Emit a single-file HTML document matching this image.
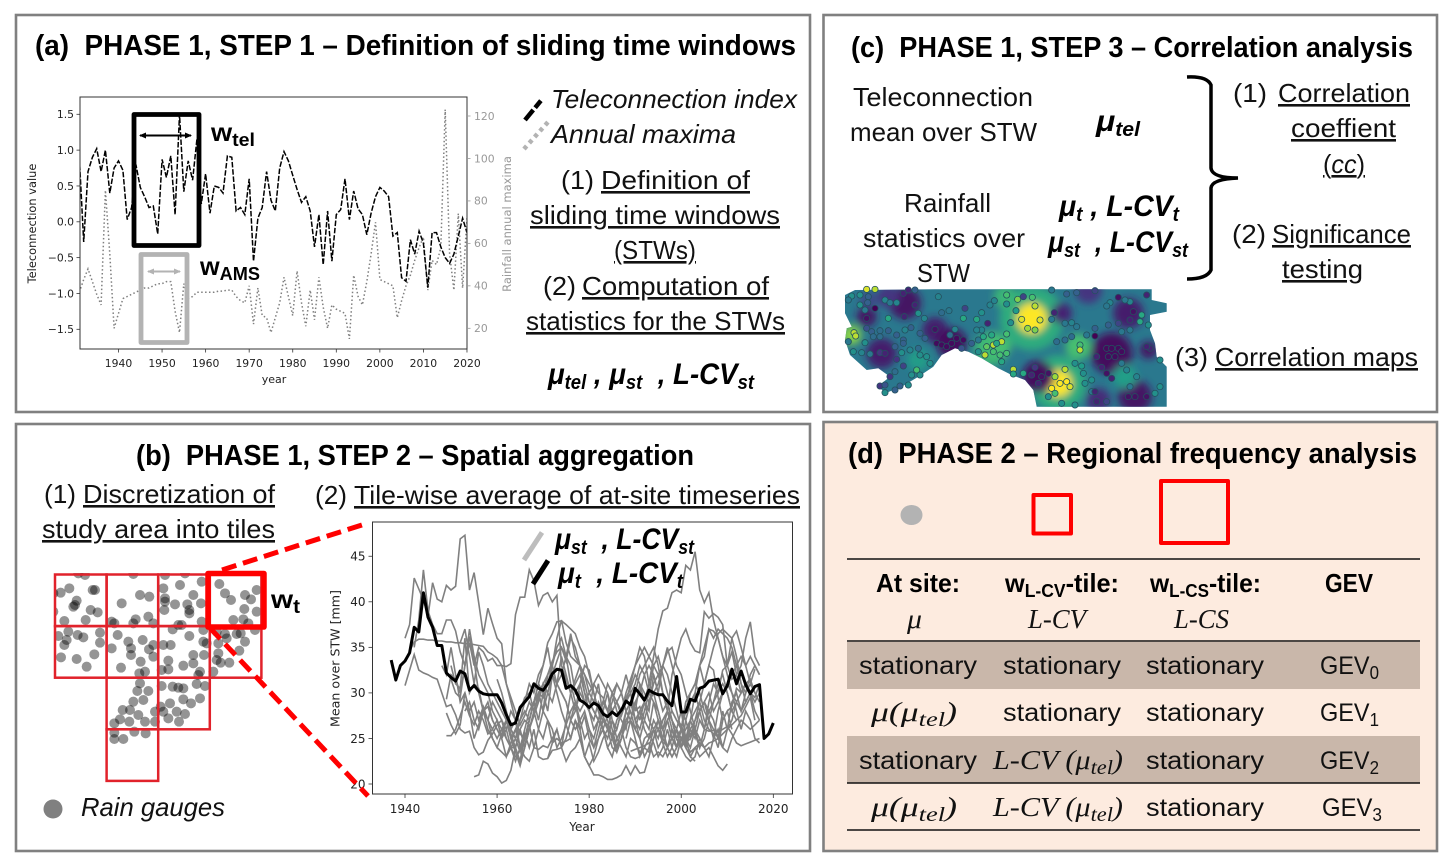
<!DOCTYPE html>
<html lang="en">
<head>
<meta charset="utf-8">
<title>Phases of the regional frequency analysis workflow</title>
<style>
html,body{margin:0;padding:0;background:#fff;}
svg{display:block;}
text{font-family:"Liberation Sans","DejaVu Sans",sans-serif;fill:#000;white-space:pre;}
.title{font-size:29px;font-weight:bold;}
.body{font-size:26px;fill:#111;}
.u{text-decoration:underline;}
.ital{font-style:italic;}
.formula{font-size:30px;font-weight:bold;font-style:italic;}
.sub{font-size:20px;}
.mpl{font-family:"DejaVu Sans","Liberation Sans",sans-serif;fill:#222;}
.cell{font-size:25px;fill:#111;}
.math{font-family:"Liberation Serif","DejaVu Serif",serif;font-style:italic;font-size:27px;fill:#111;}
.head{font-size:26px;font-weight:bold;}
</style>
</head>
<body>
<svg id="figure" xmlns="http://www.w3.org/2000/svg" width="1452" height="867" viewBox="0 0 1452 867">
<defs>
<filter id="blurHeat" x="-30%" y="-30%" width="160%" height="160%"><feGaussianBlur stdDeviation="4"/></filter>
<clipPath id="clipGauges"><rect x="54" y="573" width="215" height="215"/></clipPath>
<marker id="arrowBlack" markerWidth="8" markerHeight="8" refX="6" refY="3" orient="auto-start-reverse" markerUnits="userSpaceOnUse"><path d="M0,0 L7,3 L0,6 Z" fill="#000"/></marker>
<marker id="arrowGray" markerWidth="8" markerHeight="8" refX="6" refY="3" orient="auto-start-reverse" markerUnits="userSpaceOnUse"><path d="M0,0 L7,3 L0,6 Z" fill="#b3b3b3"/></marker>
</defs>

<rect x="16" y="15" width="794" height="397" fill="#fff" stroke="#808080" stroke-width="2.6"/>
<rect x="16" y="424" width="794" height="427" fill="#fff" stroke="#808080" stroke-width="2.6"/>
<rect x="823.500" y="15" width="613.500" height="397" fill="#fff" stroke="#808080" stroke-width="2.6"/>
<rect x="823.500" y="422" width="613.500" height="429" fill="#fdebdf" stroke="#808080" stroke-width="2.6"/>

<!-- Panel A text -->
<text class="title" x="35" y="55" textLength="761" lengthAdjust="spacingAndGlyphs">(a)  PHASE 1, STEP 1 – Definition of sliding time windows</text>
<g id="chartA"></g>
<rect x="134" y="114.500" width="65" height="131" fill="none" stroke="#000" stroke-width="4.800" stroke-linejoin="round"/>
<line x1="140" y1="135.500" x2="191" y2="135.500" stroke="#000" stroke-width="2" marker-start="url(#arrowBlack)" marker-end="url(#arrowBlack)"/>
<rect x="141" y="254.500" width="46" height="88" fill="none" stroke="#b3b3b3" stroke-width="4.800" stroke-linejoin="round"/>
<line x1="148" y1="271.500" x2="180" y2="271.500" stroke="#b3b3b3" stroke-width="2" marker-start="url(#arrowGray)" marker-end="url(#arrowGray)"/>
<text x="211" y="141" font-weight="bold" font-size="25" textLength="44" lengthAdjust="spacingAndGlyphs">w<tspan font-size="18" dy="5">tel</tspan></text>
<text x="200" y="275" font-weight="bold" font-size="25" textLength="60" lengthAdjust="spacingAndGlyphs">w<tspan font-size="18" dy="5">AMS</tspan></text>
<line x1="525" y1="120" x2="548" y2="92" stroke="#000" stroke-width="4.500" stroke-dasharray="13 3 9"/>
<line x1="524" y1="149" x2="548" y2="122" stroke="#b3b3b3" stroke-width="4.500" stroke-dasharray="4 4"/>
<text class="body ital" x="551" y="108" textLength="246" lengthAdjust="spacingAndGlyphs">Teleconnection index</text>
<text class="body ital" x="551" y="143" textLength="185" lengthAdjust="spacingAndGlyphs">Annual maxima</text>
<text class="body" x="561" y="189" textLength="33" lengthAdjust="spacingAndGlyphs">(1)</text>
<text class="body u" x="601" y="189" textLength="149" lengthAdjust="spacingAndGlyphs">Definition of</text>
<text class="body u" x="530" y="224" textLength="250" lengthAdjust="spacingAndGlyphs">sliding time windows</text>
<text class="body u" x="614" y="259" textLength="82" lengthAdjust="spacingAndGlyphs">(STWs)</text>
<text class="body" x="543" y="295" textLength="33" lengthAdjust="spacingAndGlyphs">(2)</text>
<text class="body u" x="582" y="295" textLength="187" lengthAdjust="spacingAndGlyphs">Computation of</text>
<text class="body u" x="526" y="330" textLength="259" lengthAdjust="spacingAndGlyphs">statistics for the STWs</text>
<text class="formula" x="548" y="384" textLength="206" lengthAdjust="spacingAndGlyphs">μ<tspan class="sub" dy="5">tel</tspan><tspan dy="-5"> , μ</tspan><tspan class="sub" dy="5">st</tspan><tspan dy="-5">  , L-CV</tspan><tspan class="sub" dy="5">st</tspan></text>

<!-- Panel B text -->
<text class="title" x="136" y="465" textLength="558" lengthAdjust="spacingAndGlyphs">(b)  PHASE 1, STEP 2 – Spatial aggregation</text>
<text class="body" x="44" y="503" textLength="32" lengthAdjust="spacingAndGlyphs">(1)</text>
<text class="body u" x="83" y="503" textLength="192" lengthAdjust="spacingAndGlyphs">Discretization of</text>
<text class="body u" x="42" y="538" textLength="233" lengthAdjust="spacingAndGlyphs">study area into tiles</text>
<text class="body" x="315" y="504" textLength="32" lengthAdjust="spacingAndGlyphs">(2)</text>
<text class="body u" x="354" y="504" textLength="446" lengthAdjust="spacingAndGlyphs">Tile-wise average of at-site timeseries</text>
<g id="gauges" clip-path="url(#clipGauges)"></g>
<g id="tiles"></g>
<g id="chartB"></g>
<line x1="222" y1="570" x2="368" y2="523" stroke="#f00" stroke-width="5" stroke-dasharray="15 7"/>
<line x1="210" y1="628" x2="368" y2="796" stroke="#f00" stroke-width="5" stroke-dasharray="15 7"/>
<rect x="208" y="573.500" width="56" height="53.500" fill="none" stroke="#f00" stroke-width="5.500" stroke-linejoin="round"/>
<text x="271" y="608" font-weight="bold" font-size="26" textLength="29" lengthAdjust="spacingAndGlyphs">w<tspan font-size="19" dy="5">t</tspan></text>
<circle cx="53" cy="809" r="9.500" fill="#808080"/>
<text class="body ital" x="81" y="816" textLength="144" lengthAdjust="spacingAndGlyphs">Rain gauges</text>
<line x1="524" y1="560" x2="542" y2="532.500" stroke="#bdbdbd" stroke-width="5"/>
<line x1="533" y1="584" x2="548" y2="560.500" stroke="#000" stroke-width="5"/>
<text class="formula" x="555" y="549" textLength="139" lengthAdjust="spacingAndGlyphs">μ<tspan class="sub" dy="5">st</tspan><tspan dy="-5">  , L-CV</tspan><tspan class="sub" dy="5">st</tspan></text>
<text class="formula" x="558" y="583" textLength="125" lengthAdjust="spacingAndGlyphs">μ<tspan class="sub" dy="5">t</tspan><tspan dy="-5">  , L-CV</tspan><tspan class="sub" dy="5">t</tspan></text>

<!-- Panel C text -->
<text class="title" x="851" y="57" textLength="562" lengthAdjust="spacingAndGlyphs">(c)  PHASE 1, STEP 3 – Correlation analysis</text>
<text class="body" x="853" y="106" textLength="180" lengthAdjust="spacingAndGlyphs">Teleconnection</text>
<text class="body" x="850" y="141" textLength="187" lengthAdjust="spacingAndGlyphs">mean over STW</text>
<text class="formula" x="1096" y="131" textLength="44" lengthAdjust="spacingAndGlyphs">μ<tspan class="sub" dy="5">tel</tspan></text>
<text class="body" x="904" y="212" textLength="87" lengthAdjust="spacingAndGlyphs">Rainfall</text>
<text class="body" x="863" y="247" textLength="162" lengthAdjust="spacingAndGlyphs">statistics over</text>
<text class="body" x="917" y="282" textLength="53" lengthAdjust="spacingAndGlyphs">STW</text>
<text class="formula" x="1059" y="216" textLength="120" lengthAdjust="spacingAndGlyphs">μ<tspan class="sub" dy="5">t</tspan><tspan dy="-5"> , L-CV</tspan><tspan class="sub" dy="5">t</tspan></text>
<text class="formula" x="1048" y="252" textLength="140" lengthAdjust="spacingAndGlyphs">μ<tspan class="sub" dy="5">st</tspan><tspan dy="-5">  , L-CV</tspan><tspan class="sub" dy="5">st</tspan></text>
<path d="M1187,77 Q1207,76 1211,85 L1211,168 Q1212,178 1238,178 Q1212,179 1211,188 L1211,270 Q1207,279 1187,279" fill="none" stroke="#000" stroke-width="3.500"/>
<text class="body" x="1233" y="102" textLength="34" lengthAdjust="spacingAndGlyphs">(1)</text>
<text class="body u" x="1278" y="102" textLength="132" lengthAdjust="spacingAndGlyphs">Correlation</text>
<text class="body u" x="1291" y="137" textLength="105" lengthAdjust="spacingAndGlyphs">coeffient</text>
<text class="body u" x="1323" y="173" textLength="42" lengthAdjust="spacingAndGlyphs">(<tspan font-style="italic">cc</tspan>)</text>
<text class="body" x="1232" y="243" textLength="34" lengthAdjust="spacingAndGlyphs">(2)</text>
<text class="body u" x="1272" y="243" textLength="139" lengthAdjust="spacingAndGlyphs">Significance</text>
<text class="body u" x="1282" y="278" textLength="81" lengthAdjust="spacingAndGlyphs">testing</text>
<g id="heatmap"></g>
<text class="body" x="1175" y="366" textLength="33" lengthAdjust="spacingAndGlyphs">(3)</text>
<text class="body u" x="1215" y="366" textLength="203" lengthAdjust="spacingAndGlyphs">Correlation maps</text>

<!-- Panel D -->
<text class="title" x="848" y="463" textLength="569" lengthAdjust="spacingAndGlyphs">(d)  PHASE 2 – Regional frequency analysis</text>
<ellipse cx="911.500" cy="515" rx="11" ry="10" fill="#b3b3b3"/>
<rect x="1033.500" y="495" width="37.500" height="38.500" fill="none" stroke="#f00" stroke-width="4" stroke-linejoin="round"/>
<rect x="1161" y="481" width="67" height="62" fill="none" stroke="#f00" stroke-width="4" stroke-linejoin="round"/>
<rect x="847" y="642" width="573" height="47" fill="#c9b7aa"/>
<rect x="847" y="736" width="573" height="47" fill="#c9b7aa"/>
<line x1="847" y1="559" x2="1420" y2="559" stroke="#111" stroke-width="1.600"/>
<line x1="847" y1="641" x2="1420" y2="641" stroke="#111" stroke-width="1.600"/>
<line x1="847" y1="783" x2="1420" y2="783" stroke="#111" stroke-width="1.600"/>
<line x1="847" y1="830" x2="1420" y2="830" stroke="#111" stroke-width="1.600"/>
<text class="head" x="876" y="592" textLength="84" lengthAdjust="spacingAndGlyphs">At site:</text>
<text class="head" x="1005" y="592" textLength="114" lengthAdjust="spacingAndGlyphs">w<tspan font-size="18" dy="5">L-CV</tspan><tspan dy="-5">-tile:</tspan></text>
<text class="head" x="1150" y="592" textLength="111" lengthAdjust="spacingAndGlyphs">w<tspan font-size="18" dy="5">L-CS</tspan><tspan dy="-5">-tile:</tspan></text>
<text class="head" x="1325" y="592" textLength="48" lengthAdjust="spacingAndGlyphs">GEV</text>
<text class="math" x="907" y="628" textLength="15" lengthAdjust="spacingAndGlyphs">μ</text>
<text class="math" x="1028" y="628" textLength="58" lengthAdjust="spacingAndGlyphs">L-CV</text>
<text class="math" x="1174" y="628" textLength="55" lengthAdjust="spacingAndGlyphs">L-CS</text>

<text class="cell" x="859" y="674" textLength="118" lengthAdjust="spacingAndGlyphs">stationary</text>
<text class="cell" x="1003" y="674" textLength="118" lengthAdjust="spacingAndGlyphs">stationary</text>
<text class="cell" x="1146" y="674" textLength="118" lengthAdjust="spacingAndGlyphs">stationary</text>
<text class="cell" x="1320" y="674" textLength="59" lengthAdjust="spacingAndGlyphs">GEV<tspan font-size="18" dy="5">0</tspan></text>

<text class="math" x="871" y="721" textLength="86" lengthAdjust="spacingAndGlyphs">μ(μ<tspan font-size="20" dy="5">tel</tspan><tspan dy="-5">)</tspan></text>
<text class="cell" x="1003" y="721" textLength="118" lengthAdjust="spacingAndGlyphs">stationary</text>
<text class="cell" x="1146" y="721" textLength="118" lengthAdjust="spacingAndGlyphs">stationary</text>
<text class="cell" x="1320" y="721" textLength="59" lengthAdjust="spacingAndGlyphs">GEV<tspan font-size="18" dy="5">1</tspan></text>

<text class="cell" x="859" y="769" textLength="118" lengthAdjust="spacingAndGlyphs">stationary</text>
<text class="math" x="993" y="769" textLength="130" lengthAdjust="spacingAndGlyphs">L-CV (μ<tspan font-size="20" dy="5">tel</tspan><tspan dy="-5">)</tspan></text>
<text class="cell" x="1146" y="769" textLength="118" lengthAdjust="spacingAndGlyphs">stationary</text>
<text class="cell" x="1320" y="769" textLength="59" lengthAdjust="spacingAndGlyphs">GEV<tspan font-size="18" dy="5">2</tspan></text>

<text class="math" x="871" y="816" textLength="86" lengthAdjust="spacingAndGlyphs">μ(μ<tspan font-size="20" dy="5">tel</tspan><tspan dy="-5">)</tspan></text>
<text class="math" x="993" y="816" textLength="130" lengthAdjust="spacingAndGlyphs">L-CV (μ<tspan font-size="20" dy="5">tel</tspan><tspan dy="-5">)</tspan></text>
<text class="cell" x="1146" y="816" textLength="118" lengthAdjust="spacingAndGlyphs">stationary</text>
<text class="cell" x="1322" y="816" textLength="60" lengthAdjust="spacingAndGlyphs">GEV<tspan font-size="18" dy="5">3</tspan></text>
</svg>

<script>
/* ---------- Panel A data ---------- */
const teleStartYear = 1931;
const teleValues = [0.9,-0.28,0.7,0.9,1.02,0.7,1.0,0.4,0.75,0.85,0.72,0.03,0.2,0.8,0.48,0.35,0.2,0.22,-0.17,0.87,0.62,0.92,0.1,1.5,0.42,0.85,0.58,1.15,0.25,0.67,0.12,0.5,0.48,0.4,0.92,0.9,0.15,0.2,0.1,0.6,-0.55,0.05,0.2,0.7,0.3,0.15,0.75,0.98,0.85,0.65,0.45,0.27,0.35,0.15,-0.35,0.1,-0.6,0.15,-0.55,0.1,0.17,0.6,0.03,0.43,0.18,0.1,-0.18,0.12,0.35,0.48,0.43,0.35,-0.2,-0.15,-0.78,-0.83,-0.25,-0.45,-0.13,-0.3,-0.92,-0.15,-0.15,-0.35,-0.5,-0.58,-0.45,-0.2,0.05,-0.15];
const amsValues = [37,43,48,42,36,31,85,55,20,27,34,35,36,37,38,39,39,40,41,41,42,42,28,18,41,34,35,37,37,37,37,37,37.5,37.5,38,38,35,33,32,40,22,39,26,25,18,25,32,44,35,26,47,32,21,38,24,44,30,20,31,29,28,27,15,45,35,31,42,55,70,43,42,41,40,25,33,40,45,52,58,63,38,52,50,58,123,55,38,74,39,72];
const teleXTicks = [1940,1950,1960,1970,1980,1990,2000,2010,2020];
const teleYTicks = [-1.5,-1.0,-0.5,0.0,0.5,1.0,1.5];
const amsYTicks = [20,40,60,80,100,120];

/* ---------- Panel B data ---------- */
const tileStartYear = 1937;
const tileMean = [33.6,31.4,33,33.5,34.4,37.2,36.7,41,38.3,37.2,35.2,35.2,32.2,31.7,31.3,32.4,32.1,30.3,30.8,30.2,29.9,29.8,29.8,29.8,28.9,27.6,26.5,26.7,28.4,29,29.6,31,30.5,30.3,31,32.1,32.6,32.5,30.5,30.8,30.3,29.2,28.9,28.4,28.9,28.6,27.7,27.4,27.9,27.5,28.1,29.1,28.7,30.5,29.9,29.2,30.3,30,29.8,29.8,29.1,28.6,31.8,27.9,27.9,29.3,29.1,30.5,30.7,31.3,31.4,31.5,29.9,30.8,32.6,31,32.4,30.9,29.9,30.7,30.9,25,25.5,26.7];
const grayStarts = [1940,1949,1941,1940,1949,1949,1989,1950,1952,1955,1950,1948,1958,1953,1960,1971,1963,1990,1988,1995,1942];
const gray01 = [36,37.5,42.6,41.4,40.2,38.4,42.1,40.3,40,41.8,41.3,41.7,46.9,47.3,41.3,43.2,39.9,36.4,39.3,37.6,36,35.4,31,29.5,28,26.5,27.5,29,28,29.5,31,30,32,31,30,29,27,26,27,25,26,24,25,27,26,28,29,30,28,27,26,28,29,27,26,27,25,24,26,25,24,27,29,30,28,29,30,28,29,30,31,30,29,28,30,31,30,29];
const gray02 = [29.3,32,31.5,30,33,35.5,33,35,34.5,33.5,33.8,33,33,32.9,33.2,38.6,40.5,40.5,43.5,42.3,39.6,40.7,41,40,40.7,33,31.5,30,31,32,30,28,27,29,28,30,27,26,28,29,30,31,33,32,30,29,28,26,27,25,26,28,25,24,26,28,29,27,26,25,28,26,27,29,30,31,30,29,30];
const gray03 = [34.6,35.6,35.9,35.9,35.8,35.8,35.7,35.7,35.6,35.6,35.5,35.5,35.4,35.4,35.3,35.2,35.1,34.5,34.2,33.8,33,31,29,27,24,26,28,29,27,30,32,33,31,30,29,27,28,30,29,28,26,27,26,24,25,27,28,29,30,27,28,26,25,26,24,25,27,28,27,26,29,30,31,33,35,37,36,37,36.5,36,35,33,34,33,31,32.6];
const gray04 = [30.8,32.5,34.2,32.5,32.2,32,31.7,31.5,30,28.5,28.7,27.6,26,25.6,25.8,24,23.2,23.5,24.8,25.5,26.5,27,25,24,22.5,24,25.5,24,26,23,22.7,22.8,23.7,23.8,24,25,27,29,26,23,24.5,22.5,23.5,25,26,25.5,24,25,26.5,27,25,23,24,23.5,25,26,24.5,23,24,26,24,23,22.5,23,25,24];
const gray05 = [25.3,25.3,26,27.5,29,27.5,26.5,28,27,25.5,26,27,25,23,24.5,26,27,28,27,29,30,28,27,26,24,25,26.5,25,27,26,27.5,25,24,26,28,27,25,23.5,25,27,28,26,25,23,24,26,25,27,28,26,24,25,26,27,28,29,27,26,25.5,24,27,28,26];
const gray06 = [27.8,26.5,25.5,26.5,30,28,25,26.5,28,26,25,24,23.5,23,24,25,27,29,31,30,32,33,35,32,30,28,26.5,28,29,27,28,26,25,27,29,28,26,24,26,28,29,27,25,27,29,30,31,33,35,33,31,28,27,25,26,24,25,27,29,31,32,30,28,27];
const gray07 = [23.6,23.8,24,24.2,24.5,23,23.5,23,24,25,26,25,24,23,24,24.5,24,24.5,24.7,25,25.5,26,26.5,27,27.5,28.5,29.5,27];
const gray08 = [33,31,30.5,36,30,31,30.5,28,29,27,26,25,26,28,27,25.5,25,27,29,31,33,35.5,36.5,37.8,37.9,37.5,37,36.5,35,34,32,30,28,29,31,30,29,28,29.5,30.5,32,31,30,29,31,32,33,32,30,28,26,29,30,31,30,28,27,25,26,24,26,29,30,28,29,30];
const gray09 = [35.5,37,34,31,34.5,33,31,30,29,28,27,26,25,26,24,27,29,30,28,32,33.5,34.5,35,33.5,36,35,33,31,29,28,27,29,28,30,28,27,26,29,30,32,33,34,35,33,30,28,27,25,26,24.5,25,27,28,26,29,31,30,32.5,33,34.5,32,33,36,37.8,34,33];
const gray10 = [20.8,21,22.5,22.2,21.2,20.8,20.1,20.4,21.5,24,26,27,26.5,24,23.8,24.2,24,25,26,24,22.5,23.5,24,25,23,22,23,25,26,24,23,25,26,24,23,22.8,23,25,25.5,24.5,23,24,26,24,23,25,24.5,23.5,24,23,23.5,24,23,22,21.5,22.2];
const gray11 = [31.5,30,29.5,33,36.2,33.5,30,28,28.5,27,26,25,27,25,23.5,22,24,26,28,30,29.5,31,33,35,36,34,33,30,31,29,28,31,32,31,30,28,29,27.5,29,31,33,35,34,31,30,28,26,27,25,24,25,24,27,30,33,31,33,32.5,29.5,27,28,28.5,30.5,30,31,31.5,30];
const gray12 = [33,32,35,32,29,30,28,29,27,28.5,27,26,25,26,27,25.5,24,22.5,24,26,27.5,29,31,30,32,33.5,35,34,31,29,28,29,30,31,30,29.5,28,30,31,30,28,27,29,30,32,33,32,30,28,29,27,25,26,24,26,25,27,26,28,29,30,31,30,28,29];
const gray13 = [27,29,28,27,26,24,23,22.6,25,27,29,30,31,32,33,36,38,35.5,34,33.5,33,32,31,30,28,27,26.5,25,26,28,30,31.5,33,34,35,34,33,32,30,29,27,26,25,24,26,27,29,31,33,35,36.5,37,36.5,36,36.8,35,33,34,33,32];
const gray14 = [28,29,27,26,28,27,25,24,25.5,27,25,26,24,23,22.5,24,26,28,30,29,31,32,34,36.5,34,33,30,29,28,27,26,25,27,25,24,23,25,24.5,23.5,24,25,27,26,25,24,23,24,26,28,30,31,33,34,37,36.8,36,34,32,30,28,26,28,27,25,24.5];
const gray15 = [31.5,30,28,26,25,23.5,25,27,29,31,30,28,32,31,34,32,30,28,31,33,32.5,30,28,26,27.5,29,31,30,32,30,28,31,29,28,32,30,33,34.5,35,33,32,30,28,26,25,24,23,25,28,30,31,32,33,31,29,30,28,27];
const gray16 = [22.8,24.5,25,24.5,24.7,25,27,25,23,22,21,21,20.8,20.5,20.5,20.7,21,22,21,22,21.2,21.3,23,25,27,26,24,23,24,26,25,23,22.5];
const gray17 = [26,27,28,29.5,30,28,26,25,27,24.5,26,24,27,30,31.5,33,32,30,29,31,27.5,26,24,23.5,25,28,29,27,26,28,30,33,34,32,30,28,27,26.5,25,25.5,26,28,29,28,27,25,24,23.5,25,26,27,26.5,26,26.5,27];
const gray18 = [28,28.5,27,26,29,27,26,28,27,25,24,25,27,25.5,24,26,25.8,25.9,25.7,26,26.3,25.5,24.5,24.2,24.4,24.6,24.8,25];
const gray19 = [25,27,29,27,29,31,34,37,39,39.3,41,41.3,41,44,43.5,45.5,41.3,39.9,41,38,36,34,33,31.5,32,30,31,30,29.5,31];
const gray20 = [26,27,28,32,34,36,37,35.5,34.6,34.4,38.9,38.2,38.7,38.3,37.5,33,36,34,31,30,32,33,32];
const gray21 = [35,38,43.5,39,37.5,36.5,36.5,38,38,36.8,34.5,33,37,34,32,31,30,28,27,26,25,24,24,26];
const graySeries = [gray01,gray02,gray03,gray04,gray05,gray06,gray07,gray08,gray09,gray10,gray11,gray12,gray13,gray14,gray15,gray16,gray17,gray18,gray19,gray20,gray21];
const tileXTicks = [1940,1960,1980,2000,2020];
const tileYTicks = [20,25,30,35,40,45];

/* ---------- Gauge map data: easting / northing in map units, tile columns and rows ---------- */
const gaugeEast = [118,92,188,195,140,130,135,182,203,103,167,70,70,145,165,330,358,275,355,317,310,253,245,370,310,400,450,405,405,435,490,515,403,478,478,472,513,455,445,515,405,465,428,568,585,603,645,663,643,680,680,610,640,655,675,632,620,585,560,115,85,110,103,143,160,210,210,93,140,170,193,263,295,338,303,303,357,370,245,332,370,273,345,328,400,422,520,478,520,530,490,522,490,415,415,460,510,505,395,565,590,645,628,565,572,560,598,550,330,322,355,340,310,300,278,325,345,298,270,375,253,375,428,445,460,395,420,460,483,392,400,440,465,415,447,510,500,525,253,280,253,313,347];
const gaugeNorth = [85,98,90,90,122,140,135,150,157,183,180,100,155,40,45,105,110,130,170,178,190,190,185,190,42,85,75,115,125,133,105,65,150,150,160,133,130,195,195,185,45,40,208,72,100,120,105,118,147,90,155,180,178,190,210,220,222,222,215,215,228,240,255,225,232,218,248,292,297,320,283,225,245,240,265,285,268,255,265,305,290,323,335,340,255,255,210,228,245,250,285,285,310,302,328,317,335,345,330,250,235,245,272,280,308,300,308,335,370,393,393,420,425,450,450,465,485,485,478,455,490,485,380,383,385,378,430,418,430,440,455,455,462,475,485,415,372,378,518,537,537,515,520];
const tileCols = [0,1,2,3,0,1,2,3,1,2,1];
const tileRows = [0,0,0,0,1,1,1,1,2,2,3];

/* ---------- Correlation map data (map units): blobs and gauge values ---------- */
const blobEast = [590,590,670,670,50,470,510,730,210,95,140,300,350,830,610,880,900,940,680,160,790,250,100,500,870,760];
const blobNorth = [115,115,310,310,165,205,50,200,70,110,220,150,190,220,290,100,350,210,100,50,360,240,60,200,290,30];
const blobRadius = [80,38,70,34,24,42,28,32,40,25,38,32,38,52,40,38,42,22,26,28,30,28,22,24,30,34];
const blobValue = [0.62,1,0.62,1,0.82,0.68,0.66,0.7,0.05,0.05,0.08,0.08,0.03,0.03,0.03,0.08,0.05,0.05,0.1,0.15,0.12,0.55,0.22,0.7,0.56,0.15];
const stationEast = [95,120,50,75,100,40,98,75,120,90,95,150,165,185,205,220,240,240,208,160,310,320,342,268,250,390,385,425,440,465,478,515,515,548,565,592,600,650,695,725,780,850,935,825,815,885,870,895,920,885,915,940,850,820,780,885,860,780,755,658,650,690,710,725,665,690,710,735,735,560,615,578,600,543,527,458,515,440,425,57,62,40,90,95,110,135,135,115,160,185,210,228,205,205,180,255,270,300,360,345,305,320,335,350,365,385,380,410,430,455,475,500,450,475,495,515,430,445,470,485,55,80,105,135,150,185,200,225,250,255,275,285,245,230,205,180,165,135,150,180,195,220,255,150,500,535,535,565,600,590,620,640,610,660,650,675,695,705,690,660,640,680,720,720,740,745,770,750,770,800,815,830,785,815,830,850,820,840,860,860,875,905,885,960,975,975,945,935,880,900,935,780,785,815];
const stationNorth = [28,28,48,45,50,60,68,75,85,90,115,60,68,68,40,30,30,75,110,115,50,98,92,115,100,85,115,118,98,75,62,72,45,58,50,52,78,30,42,38,32,52,45,68,78,65,60,95,105,120,125,135,130,135,145,150,155,168,165,98,118,130,128,140,185,180,170,195,210,118,120,145,150,92,128,130,162,150,150,158,168,185,188,145,155,152,170,170,152,165,150,143,180,190,200,160,175,148,148,165,190,195,200,190,175,180,205,190,180,200,195,185,225,215,225,220,215,170,165,190,215,218,222,218,220,238,218,210,205,225,230,250,270,285,258,275,290,318,315,330,318,315,285,338,245,268,282,280,262,285,290,280,310,290,325,310,305,320,268,340,350,370,375,250,258,280,300,310,335,262,280,295,230,205,205,205,230,230,215,250,270,290,320,340,320,240,205,200,350,350,350,335,365,365];
const stationValue = [.95,.9,.5,.5,.3,.4,.3,.5,0,.4,.05,.45,.4,.45,.1,.1,.3,.1,.1,.6,.45,.35,.4,.45,.5,.2,.6,.6,.5,.45,.45,.5,.7,.8,.2,.7,.9,.4,.3,.3,.2,.05,.1,.45,.4,.45,.4,.05,.6,.1,.6,.5,.2,.3,.3,.4,.4,0,.4,.1,.4,.4,.45,.4,.35,.35,.35,.7,.9,.95,.95,.85,.8,.55,.5,.1,.7,.45,.45,.9,.9,.4,.5,.25,.3,.35,.35,.35,.3,.3,.45,.3,.3,.3,.3,.3,.3,.05,.45,.35,.03,.03,.03,.03,.03,.03,.25,.3,.4,.75,.9,.9,.9,.7,.7,.7,.5,.6,.6,.6,.5,.45,.4,.15,.1,.15,.5,.45,.35,.5,.5,.5,.7,.5,.2,.35,.15,.15,.25,.3,.3,.5,.5,.5,.6,.9,.6,.6,.15,.1,.05,.05,.1,.85,1,1,1,.95,.9,.7,.5,.5,.5,.5,.55,.5,.5,.5,.4,.1,.05,.1,.1,.03,.03,.03,.03,.03,.03,.4,.45,.45,.4,.5,.5,.5,.1,.1,.05,.05,.05,.1,.1,.2];
const mapOutlineEast = [30,60,300,950,950,995,995,945,945,960,965,995,995,605,595,570,530,490,440,400,360,320,295,250,200,150,130,165,130,95,45,30,35,50,30];
const mapOutlineNorth = [45,30,28,28,60,70,95,105,150,190,230,260,380,380,330,300,285,265,235,215,205,225,260,290,320,340,318,290,265,270,225,180,145,140,100];

/* ---------- Helpers ---------- */
const NS = 'http://www.w3.org/2000/svg';
function mk(tag, parent, attrs, txt) {
  const el = document.createElementNS(NS, tag);
  for (const k in attrs) el.setAttribute(k, attrs[k]);
  if (txt !== undefined) el.textContent = txt;
  parent.appendChild(el);
  return el;
}
function fmtMinus(v, digits) {
  const s = Math.abs(v).toFixed(digits);
  return (v < 0 ? '\u2212' : '') + s;
}
function pathFrom(startYear, values, xFn, yFn) {
  return values.map((v, i) => (i ? 'L' : 'M') + xFn(startYear + i).toFixed(1) + ',' + yFn(v).toFixed(1)).join(' ');
}

/* ---------- Chart A ---------- */
(function () {
  const g = document.getElementById('chartA');
  const left = 80, right = 467, top = 97, bottom = 349;
  const xA = y => 118.5 + (y - 1940) * 4.356;
  const yL = v => 221.8 - v * 71.67;
  const yR = v => 328.3 - (v - 20) * 2.123;
  const clipId = 'clipA';
  const defs = mk('clipPath', g, { id: clipId });
  mk('rect', defs, { x: left, y: top, width: right - left, height: bottom - top });

  const ams = mk('path', g, { d: pathFrom(teleStartYear, amsValues, xA, yR), fill: 'none', stroke: '#7f7f7f', 'stroke-width': 1.5, 'stroke-dasharray': '1.5 2.4', 'clip-path': 'url(#clipA)' });
  
  

  const tele = mk('path', g, { d: pathFrom(teleStartYear, teleValues, xA, yL), fill: 'none', stroke: '#000', 'stroke-width': 1.5, 'stroke-dasharray': '5.5 1.8', 'clip-path': 'url(#clipA)' });
  
  

  const frame = mk('rect', g, { x: left, y: top, width: right - left, height: bottom - top, fill: 'none', stroke: '#333', 'stroke-width': 1 });
  
  

  teleXTicks.forEach(t => {
    const tick = mk('line', g, { x1: xA(t), x2: xA(t), y1: bottom, y2: bottom + 3.5, stroke: '#333', 'stroke-width': 0.8 });
    
    
    const lab = mk('text', g, { x: xA(t), y: bottom + 18, 'text-anchor': 'middle', 'font-size': 10.8, class: 'mpl' }, String(t));
    
    
  });
  teleYTicks.forEach(t => {
    const tick = mk('line', g, { x1: left - 3.5, x2: left, y1: yL(t), y2: yL(t), stroke: '#333', 'stroke-width': 0.8 });
    
    
    const lab = mk('text', g, { x: left - 6, y: yL(t) + 3.8, 'text-anchor': 'end', 'font-size': 10.8, class: 'mpl' }, fmtMinus(t, 1));
    
    
  });
  amsYTicks.forEach(t => {
    const tick = mk('line', g, { x1: right, x2: right + 3.5, y1: yR(t), y2: yR(t), stroke: '#999', 'stroke-width': 0.8 });
    
    
    const lab = mk('text', g, { x: right + 7, y: yR(t) + 3.8, 'font-size': 10.8, class: 'mpl', style: 'fill:#999' }, String(t));
    
    
  });
  const xt = mk('text', g, { x: 274, y: 383, 'text-anchor': 'middle', 'font-size': 11, class: 'mpl' }, 'year');
  
  
  const yt = mk('text', g, { x: 0, y: 0, transform: 'translate(36,223.5) rotate(-90)', 'text-anchor': 'middle', 'font-size': 11.4, class: 'mpl' }, 'Teleconnection value');
  
  
  const yr = mk('text', g, { x: 0, y: 0, transform: 'translate(511,224) rotate(-90)', 'text-anchor': 'middle', 'font-size': 11.5, class: 'mpl', style: 'fill:#999' }, 'Rainfall annual maxima');
  
  
})();

/* ---------- Rain gauges and tiles ---------- */
(function () {
  const gg = document.getElementById('gauges');
  const gx = e => 30 + e / 3;
  const gy = n => 560 + n / 3;
  gaugeEast.forEach((e, i) => {
    const c = mk('circle', gg, { cx: gx(e), cy: gy(gaugeNorth[i]), r: 5, fill: 'rgba(0,0,0,0.42)' });
    
    
  });
  const tg = document.getElementById('tiles');
  const tileX = c => 55 + c * 51.6;
  const tileY = r => 574.5 + r * 51.6;
  tileCols.forEach((c, i) => {
    const t = mk('rect', tg, { x: tileX(c), y: tileY(tileRows[i]), width: 51.6, height: 51.6, fill: 'none', stroke: '#e1222b', 'stroke-width': 2.5 });
    
    
  });
})();

/* ---------- Chart B ---------- */
(function () {
  const g = document.getElementById('chartB');
  const left = 372.5, right = 792.5, top = 522, bottom = 794;
  const xB = y => 405 + (y - 1940) * 4.604;
  const yB = v => 784 - (v - 20) * 9.11;
  const defs = mk('clipPath', g, { id: 'clipB' });
  mk('rect', defs, { x: left, y: top, width: right - left, height: bottom - top });

  graySeries.forEach((vals, i) => {
    const p = mk('path', g, { d: pathFrom(grayStarts[i], vals, xB, yB), fill: 'none', stroke: '#808080', 'stroke-width': 1.6, 'clip-path': 'url(#clipB)' });
    
    
  });
  const m = mk('path', g, { d: pathFrom(tileStartYear, tileMean, xB, yB), fill: 'none', stroke: '#000', 'stroke-width': 3, 'stroke-linejoin': 'round' });
  
  

  const frame = mk('rect', g, { x: left, y: top, width: right - left, height: bottom - top, fill: 'none', stroke: '#333', 'stroke-width': 1 });
  
  

  tileXTicks.forEach(t => {
    const tick = mk('line', g, { x1: xB(t), x2: xB(t), y1: bottom, y2: bottom + 4, stroke: '#333', 'stroke-width': 0.8 });
    
    
    const lab = mk('text', g, { x: xB(t), y: bottom + 19, 'text-anchor': 'middle', 'font-size': 12, class: 'mpl' }, String(t));
    
    
  });
  tileYTicks.forEach(t => {
    const tick = mk('line', g, { x1: left - 4, x2: left, y1: yB(t), y2: yB(t), stroke: '#333', 'stroke-width': 0.8 });
    
    
    const lab = mk('text', g, { x: left - 7, y: yB(t) + 4.3, 'text-anchor': 'end', 'font-size': 12, class: 'mpl' }, String(t));
    
    
  });
  const xt = mk('text', g, { x: 582, y: 831, 'text-anchor': 'middle', 'font-size': 12, class: 'mpl' }, 'Year');
  
  
  const yt = mk('text', g, { x: 0, y: 0, transform: 'translate(339.5,658.5) rotate(-90)', 'text-anchor': 'middle', 'font-size': 12.6, class: 'mpl' }, 'Mean over STW [mm]');
  
  
})();

/* ---------- Correlation map ---------- */
(function () {
  const g = document.getElementById('heatmap');
  const mx = e => 835 + e / 3;
  const my = n => 280 + n / 3;
  const stops = [[68,1,84],[70,50,127],[54,92,141],[39,127,142],[31,161,135],[74,194,109],[160,218,57],[253,231,37]];
  function viridis(v) {
    const t = Math.max(0, Math.min(0.9999, v)) * (stops.length - 1);
    const i = Math.floor(t), f = t - i;
    const a = stops[i], b = stops[i + 1];
    return 'rgb(' + a.map((c, k) => Math.round(c + (b[k] - c) * f)).join(',') + ')';
  }
  const cp = mk('clipPath', g, { id: 'clipMap' });
  mk('polygon', cp, { points: mapOutlineEast.map((e, i) => mx(e).toFixed(1) + ',' + my(mapOutlineNorth[i]).toFixed(1)).join(' ') });
  const clipped = mk('g', g, { 'clip-path': 'url(#clipMap)' });
  const base = mk('rect', clipped, { x: 840, y: 285, width: 332, height: 125, fill: viridis(0.4) });
  
  
  const blurred = mk('g', clipped, { filter: 'url(#blurHeat)' });
  blobEast.forEach((e, i) => {
    const b = mk('circle', blurred, { cx: mx(e), cy: my(blobNorth[i]), r: blobRadius[i] / 2.5, fill: viridis(blobValue[i]) });
    
    
  });
  stationEast.forEach((e, i) => {
    const c = mk('circle', g, { cx: mx(e), cy: my(stationNorth[i]), r: 3.1, fill: viridis(stationValue[i]), stroke: '#24505f', 'stroke-width': 0.8 });
    
    
  });
})();
</script>
</body>
</html>
